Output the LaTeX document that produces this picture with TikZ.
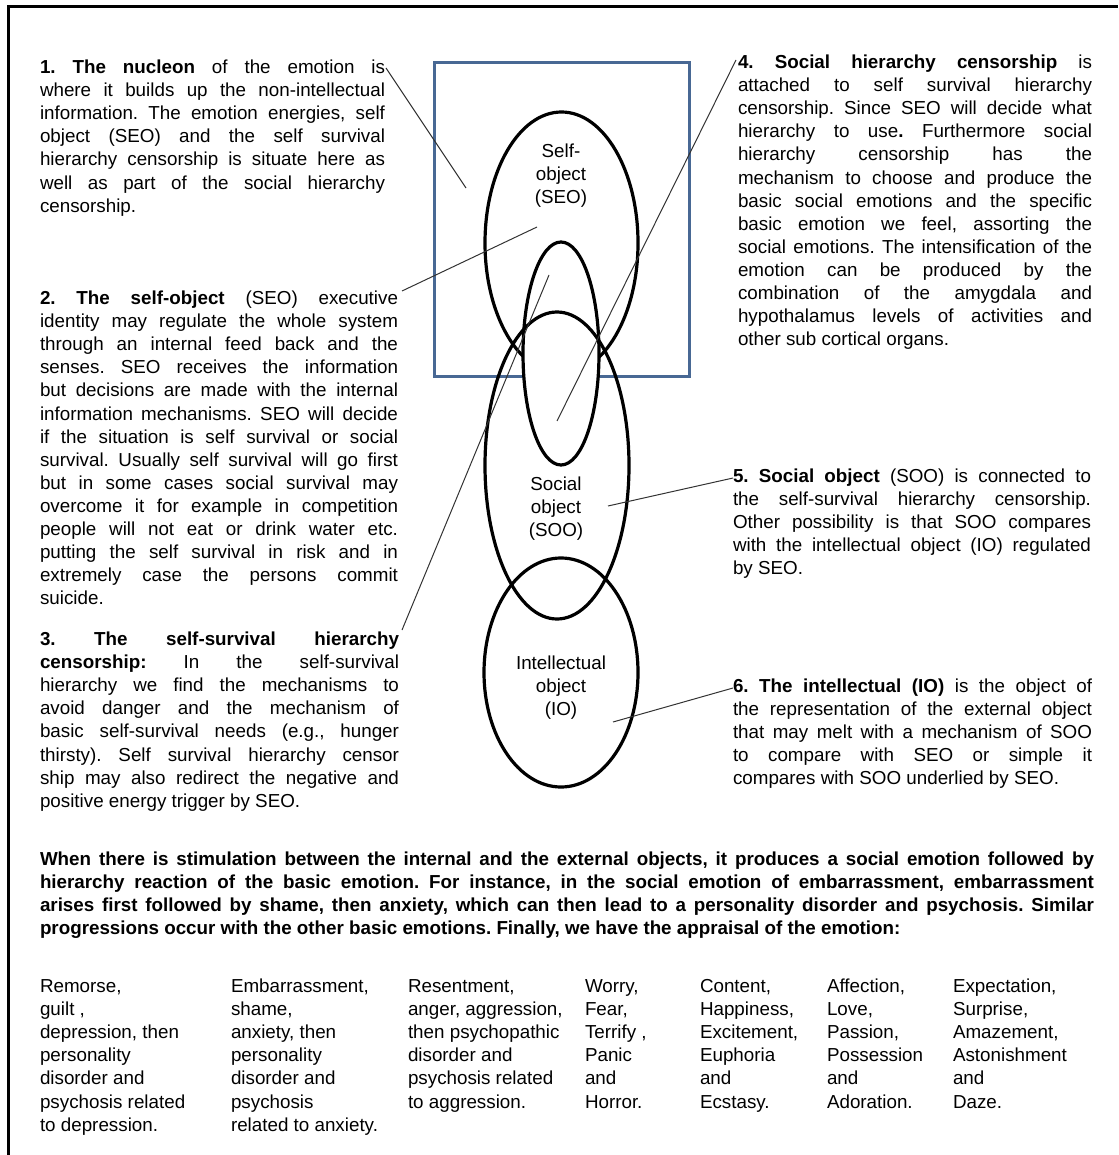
\documentclass[tikz,border=0pt]{standalone}
\usepackage{fontspec}
\setmainfont{Liberation Sans}
\usetikzlibrary{shapes.geometric}
\definecolor{boxblue}{RGB}{72,104,148}
\frenchspacing
\newcommand\jl[1]{\hbox to\hsize{#1}}
\newcommand\lastl[1]{\hbox{#1}}
\newcommand\cl[1]{\hbox to\hsize{\hss#1\hss}}
\newcommand\para[2]{\vtop{\hsize=#1\relax #2}}
\tikzset{
  txt/.style={anchor=base west, inner sep=0pt, outer sep=0pt, font=\fontsize{14.1}{17.33}\selectfont\frenchspacing},
  lbl/.style={anchor=base, inner sep=0pt, outer sep=0pt, font=\fontsize{14.1}{17.33}\selectfont},
  oval/.style={ellipse, draw=black, line width=2.4pt, inner sep=0pt, outer sep=0pt},
  bluebox/.style={rectangle, draw=boxblue, line width=2.25pt, inner sep=0pt, outer sep=0pt},
  leader/.style={draw=black!80, line width=0.75pt},
  frame/.style={draw=black, line width=2.25pt},
}
\begin{document}
\begin{tikzpicture}[x=0.75pt,y=-0.75pt]
\useasboundingbox (0,0) rectangle (1118,1155);
\draw[frame] (8.5,1155) -- (8.5,6.5) -- (1118,6.5);

% blue box and ellipses
\node[bluebox, minimum width=191.25pt, minimum height=234.75pt, anchor=north west] (box) at (434,63) {};
\node[oval, minimum width=114.75pt, minimum height=196.5pt] (seo) at (561.5,243) {};
\node[oval, fill=white, minimum width=57pt, minimum height=167.25pt] (small) at (561,353.5) {};
\node[oval, minimum width=108pt, minimum height=230.25pt] (soo) at (557,465.5) {};
\node[oval, minimum width=115.5pt, minimum height=171.75pt] (io) at (561,672.5) {};

% ellipse labels
\node[lbl] (seolbl) at (561,157.5) {\para{100pt}{\cl{Self-}\cl{object}\cl{(SEO)}}};
\node[lbl] (soolbl) at (556,490.5) {\para{100pt}{\cl{Social}\cl{object}\cl{(SOO)}}};
\node[lbl] (iolbl) at (561,669.5) {\para{100pt}{\cl{Intellectual}\cl{object}\cl{(IO)}}};

% text 1
\node[txt] (t1) at (40,73.5) {\para{258.75pt}{%
\jl{\textbf{1. The nucleon} of the emotion is}%
\jl{where it builds up the non-intellectual}%
\jl{information. The emotion energies, self}%
\jl{object (SEO) and the self survival}%
\jl{hierarchy censorship is situate here as}%
\jl{well as part of the social hierarchy}%
\lastl{censorship.}}};

% text 2
\node[txt] (t2) at (40,304.5) {\para{268.5pt}{%
\jl{\textbf{2. The self-object} (SEO) executive}%
\jl{identity may regulate the whole system}%
\jl{through an internal feed back and the}%
\jl{senses. SEO receives the information}%
\jl{but decisions are made with the internal}%
\jl{information mechanisms. SEO will decide}%
\jl{if the situation is self survival or social}%
\jl{survival. Usually self survival will go first}%
\jl{but in some cases social survival may}%
\jl{overcome it for example in competition}%
\jl{people will not eat or drink water etc.}%
\jl{putting the self survival in risk and in}%
\jl{extremely case the persons commit}%
\lastl{suicide.}}};

% text 3
\node[txt] (t3) at (40,645.5) {\para{269.25pt}{%
\jl{\textbf{3. The self-survival hierarchy}}%
\jl{\textbf{censorship:} In the self-survival}%
\jl{hierarchy we find the mechanisms to}%
\jl{avoid danger and the mechanism of}%
\jl{basic self-survival needs (e.g., hunger}%
\jl{thirsty). Self survival hierarchy censor}%
\jl{ship may also redirect the negative and}%
\lastl{positive energy trigger by SEO.}}};

% text 4
\node[txt] (t4) at (738,68.5) {\para{265.5pt}{%
\jl{\textbf{4. Social hierarchy censorship} is}%
\jl{attached to self survival hierarchy}%
\jl{censorship. Since SEO will decide what}%
\jl{hierarchy to use\textbf{.} Furthermore social}%
\jl{hierarchy censorship has the}%
\jl{mechanism to choose and produce the}%
\jl{basic social emotions and the specific}%
\jl{basic emotion we feel, assorting the}%
\jl{social emotions. The intensification of the}%
\jl{emotion can be produced by the}%
\jl{combination of the amygdala and}%
\jl{hypothalamus levels of activities and}%
\lastl{other sub cortical organs.}}};

% text 5
\node[txt] (t5) at (733,482.5) {\para{268.5pt}{%
\jl{\textbf{5. Social object} (SOO) is connected to}%
\jl{the self-survival hierarchy censorship.}%
\jl{Other possibility is that SOO compares}%
\jl{with the intellectual object (IO) regulated}%
\lastl{by SEO.}}};

% text 6
\node[txt] (t6) at (733,692.5) {\para{269.25pt}{%
\jl{\textbf{6. The intellectual (IO)} is the object of}%
\jl{the representation of the external object}%
\jl{that may melt with a mechanism of SOO}%
\jl{to compare with SEO or simple it}%
\lastl{compares with SOO underlied by SEO.}}};

% bold paragraph
\node[txt] (summary) at (40,865.5) {\para{790.5pt}{\bfseries
\jl{When there is stimulation between the internal and the external objects, it produces a social emotion followed by}%
\jl{hierarchy reaction of the basic emotion. For instance, in the social emotion of embarrassment, embarrassment}%
\jl{arises first followed by shame, then anxiety, which can then lead to a personality disorder and psychosis. Similar}%
\lastl{progressions occur with the other basic emotions. Finally, we have the appraisal of the emotion:}}};

% columns
\node[txt] (c1) at (40,992.5) {\para{180pt}{\lastl{Remorse,}\lastl{guilt ,}\lastl{depression, then}\lastl{personality}\lastl{disorder and}\lastl{psychosis related}\lastl{to depression.}}};
\node[txt] (c2) at (231,992.5) {\para{170pt}{\lastl{Embarrassment,}\lastl{shame,}\lastl{anxiety, then}\lastl{personality}\lastl{disorder and}\lastl{psychosis}\lastl{related to anxiety.}}};
\node[txt] (c3) at (408,992.5) {\para{170pt}{\lastl{Resentment,}\lastl{anger, aggression,}\lastl{then psychopathic}\lastl{disorder and}\lastl{psychosis related}\lastl{to aggression.}}};
\node[txt] (c4) at (585,992.5) {\para{80pt}{\lastl{Worry,}\lastl{Fear,}\lastl{Terrify ,}\lastl{Panic}\lastl{and}\lastl{Horror.}}};
\node[txt] (c5) at (700,992.5) {\para{90pt}{\lastl{Content,}\lastl{Happiness,}\lastl{Excitement,}\lastl{Euphoria}\lastl{and}\lastl{Ecstasy.}}};
\node[txt] (c6) at (827,992.5) {\para{90pt}{\lastl{Affection,}\lastl{Love,}\lastl{Passion,}\lastl{Possession}\lastl{and}\lastl{Adoration.}}};
\node[txt] (c7) at (953,992.5) {\para{110pt}{\lastl{Expectation,}\lastl{Surprise,}\lastl{Amazement,}\lastl{Astonishment}\lastl{and}\lastl{Daze.}}};

% leader lines
\coordinate (l1a) at (386,68);  \coordinate (l1b) at (466,188);
\coordinate (l2a) at (402,291); \coordinate (l2b) at (537,227);
\coordinate (l3a) at (402,630); \coordinate (l3b) at (549,275);
\coordinate (l4a) at (736,60);  \coordinate (l4b) at (557,421);
\coordinate (l5a) at (733,478); \coordinate (l5b) at (608,506);
\coordinate (l6a) at (733,688); \coordinate (l6b) at (613,722);
\draw[leader] (l1a) -- (l1b);
\draw[leader] (l2a) -- (l2b);
\draw[leader] (l3a) -- (l3b);
\draw[leader] (l4a) -- (l4b);
\draw[leader] (l5a) -- (l5b);
\draw[leader] (l6a) -- (l6b);
\end{tikzpicture}
\end{document}
